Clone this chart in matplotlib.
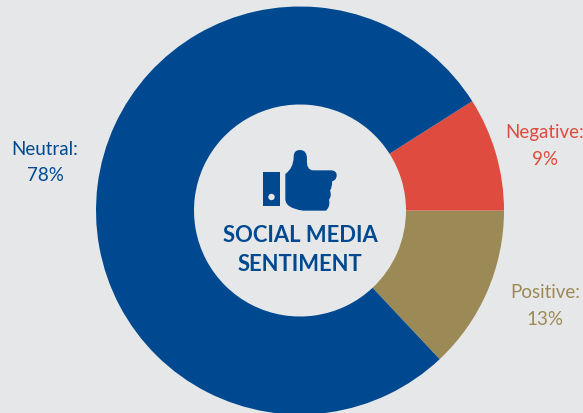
import matplotlib
matplotlib.use('Agg')
import matplotlib.pyplot as plt
from matplotlib.patches import Circle, PathPatch, Rectangle
from matplotlib.path import Path

# Sentiment shares, clockwise order handled by the start angle
categories = ['Positive', 'Negative', 'Neutral']
shares = [13, 9, 78]
colors = ['#9C8A56', '#DF4C3F', '#004990']

BG = '#E6E7E9'
BLUE = '#004990'

plt.rcParams['font.family'] = ['Lato', 'DejaVu Sans']

fig = plt.figure(figsize=(5.83, 4.14), dpi=100, facecolor=BG)
ax = fig.add_axes([0, 0, 1, 1])
ax.set_facecolor(BG)

# Donut, axes units are pixels
ax.pie(shares, colors=colors, startangle=-shares[0] * 3.6, center=(300, 202.5), radius=204,
       wedgeprops={'width': 98, 'linewidth': 0}, frame=True)
ax.set_xlim(0, 583)
ax.set_ylim(0, 414)
ax.set_aspect('equal')
ax.axis('off')


# Thumbs-up icon in the hole, traced on a 540x450 grid
def icon_xy(x, y):
    return (210 + x / 3, 414 - (130 + y / 3))


ax.add_patch(Rectangle((263, 414 - 207), 17, 34, color=BLUE, lw=0))
ax.add_patch(Circle((271.5, 414 - 198), 3.2, color=BG, lw=0))

thumb = [
    (Path.MOVETO, (226, 135)),
    (Path.CURVE3, (250, 118)), (Path.CURVE3, (251, 85)),
    (Path.CURVE3, (250, 63)), (Path.CURVE3, (270, 63)),
    (Path.CURVE3, (291, 63)), (Path.CURVE3, (291, 90)),
    (Path.CURVE3, (288, 124)), (Path.CURVE3, (310, 124)),
    (Path.LINETO, (365, 124)),
    (Path.CURVE3, (381, 126)), (Path.CURVE3, (380, 140)),
    (Path.CURVE3, (379, 154)), (Path.CURVE3, (366, 157)),
    (Path.CURVE3, (368, 172)), (Path.CURVE3, (360, 185)),
    (Path.CURVE3, (366, 200)), (Path.CURVE3, (357, 212)),
    (Path.CURVE3, (362, 232)), (Path.CURVE3, (348, 245)),
    (Path.LINETO, (280, 245)),
    (Path.CURVE3, (226, 238)), (Path.CURVE3, (226, 210)),
    (Path.CLOSEPOLY, (226, 135)),
]
codes = [c for c, _ in thumb]
verts = [icon_xy(*p) for _, p in thumb]
ax.add_patch(PathPatch(Path(verts, codes), facecolor=BLUE, edgecolor='none'))

# Centre title
ax.text(300, 414 - 242, 'SOCIAL MEDIA', fontsize=15.8, fontweight='bold', color=BLUE, ha='center', va='baseline')
ax.text(300, 414 - 271, 'SENTIMENT', fontsize=15.8, fontweight='bold', color=BLUE, ha='center', va='baseline')

# Outer labels
ax.text(45, 414 - 155, 'Neutral:', fontsize=13.5, color=colors[2], ha='center', va='baseline')
ax.text(45, 414 - 181, '78%', fontsize=13.5, color=colors[2], ha='center', va='baseline')
ax.text(545, 414 - 138, 'Negative:', fontsize=13.5, color=colors[1], ha='center', va='baseline')
ax.text(545, 414 - 165, '9%', fontsize=13.5, color=colors[1], ha='center', va='baseline')
ax.text(545, 414 - 298, 'Positive:', fontsize=13.5, color=colors[0], ha='center', va='baseline')
ax.text(545, 414 - 325, '13%', fontsize=13.5, color=colors[0], ha='center', va='baseline')

fig.savefig('out.png', dpi=100, facecolor=BG)
